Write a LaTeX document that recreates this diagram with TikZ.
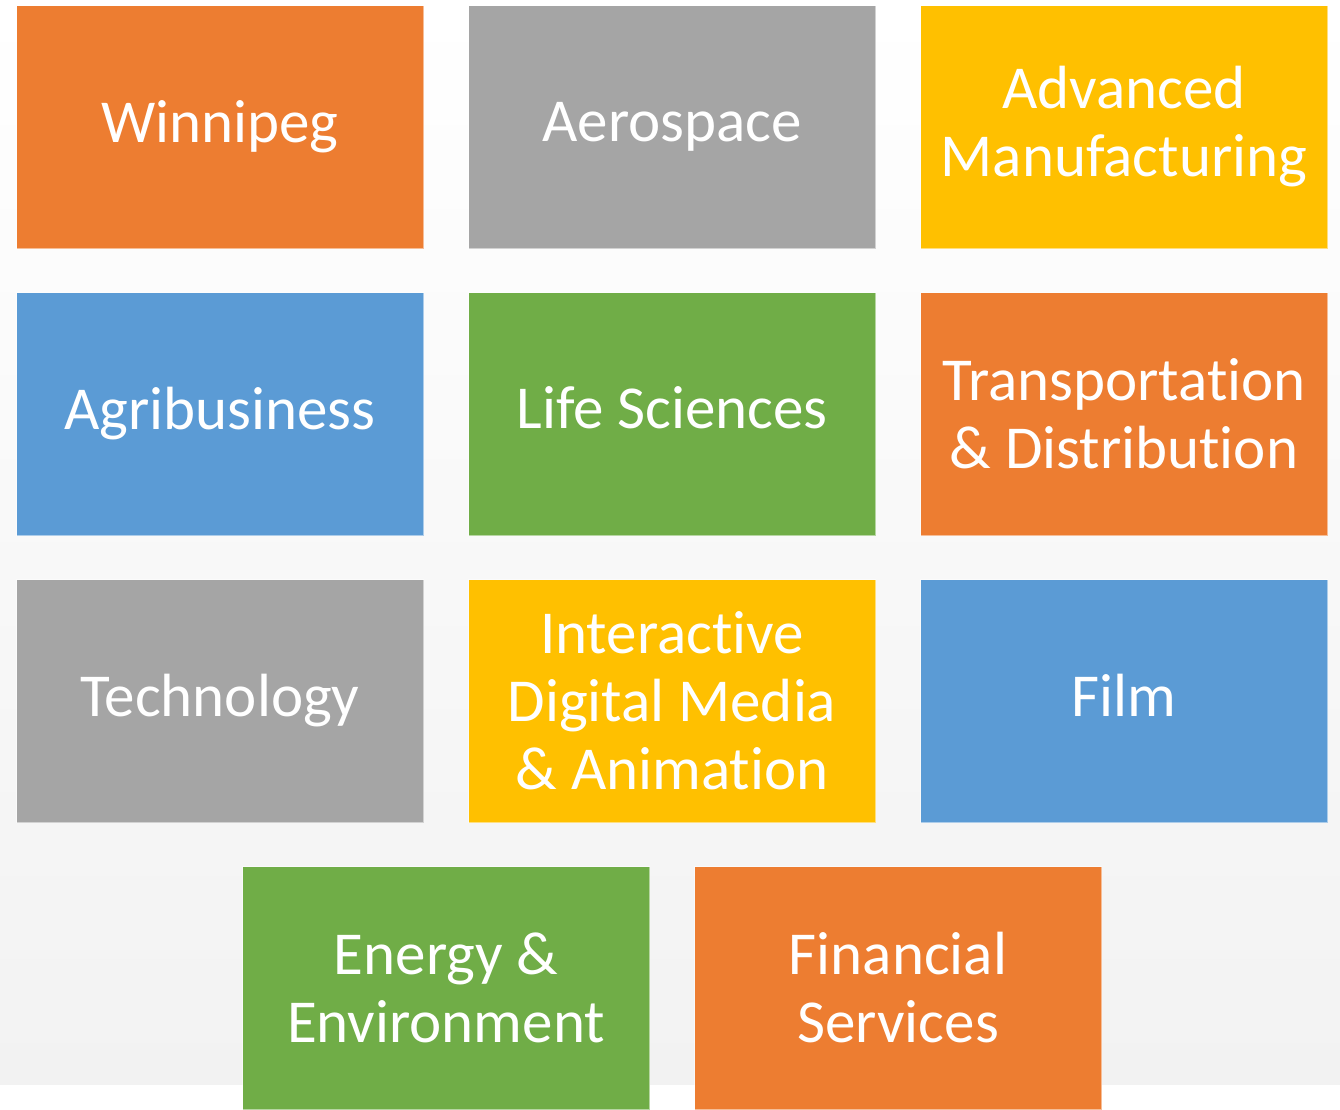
\documentclass[tikz,border=0pt]{standalone}
\usepackage{fontspec}
\setmainfont[Ligatures={NoCommon,NoRare,NoContextual},Contextuals=NoAlternate]{Carlito}
\definecolor{cOrange}{HTML}{ED7D31}
\definecolor{cGray}{HTML}{A5A5A5}
\definecolor{cYellow}{HTML}{FFC000}
\definecolor{cBlue}{HTML}{5B9BD5}
\definecolor{cGreen}{HTML}{70AD47}
\definecolor{bgBottom}{HTML}{F2F2F2}
\tikzset{
  tile/.style={anchor=north west, minimum width=407pt, minimum height=243pt,
    inner sep=0pt, draw=white, draw opacity=0.5, line width=1pt,
    text=white, align=center, font=\fontsize{61}{68}\selectfont},
  nodesc/.style={text depth=12pt}
}
\begin{document}
\begin{tikzpicture}[x=1pt,y=-1pt]
\useasboundingbox (0,0) rectangle (1340,1109);
\fill[white] (0,0) rectangle (1340,1109);
\shade[top color=white, bottom color=bgBottom] (0,0) rectangle (1340,1084);
\node[tile, fill=cOrange] (winnipeg) at (16,5) {Winnipeg};
\node[tile, fill=cGray] (aero) at (468,5) {Aerospace};
\node[tile, fill=cYellow] (adv) at (920,5) {Advanced\\Manufacturing};
\node[tile, fill=cBlue] (agri) at (16,292) {Agribusiness};
\node[tile, fill=cGreen, nodesc] (life) at (468,292) {Life Sciences};
\node[tile, fill=cOrange] (trans) at (920,292) {Transportation\\\& Distribution};
\node[tile, fill=cGray] (tech) at (16,579) {Technology};
\node[tile, fill=cYellow] (idm) at (468,579) {Interactive\\Digital Media\\\& Animation};
\node[tile, fill=cBlue, nodesc] (film) at (920,579) {Film};
\node[tile, fill=cGreen] (energy) at (242,866) {Energy \&\\Environment};
\node[tile, fill=cOrange] (fin) at (694,866) {Financial\\Services};
\end{tikzpicture}
\end{document}
